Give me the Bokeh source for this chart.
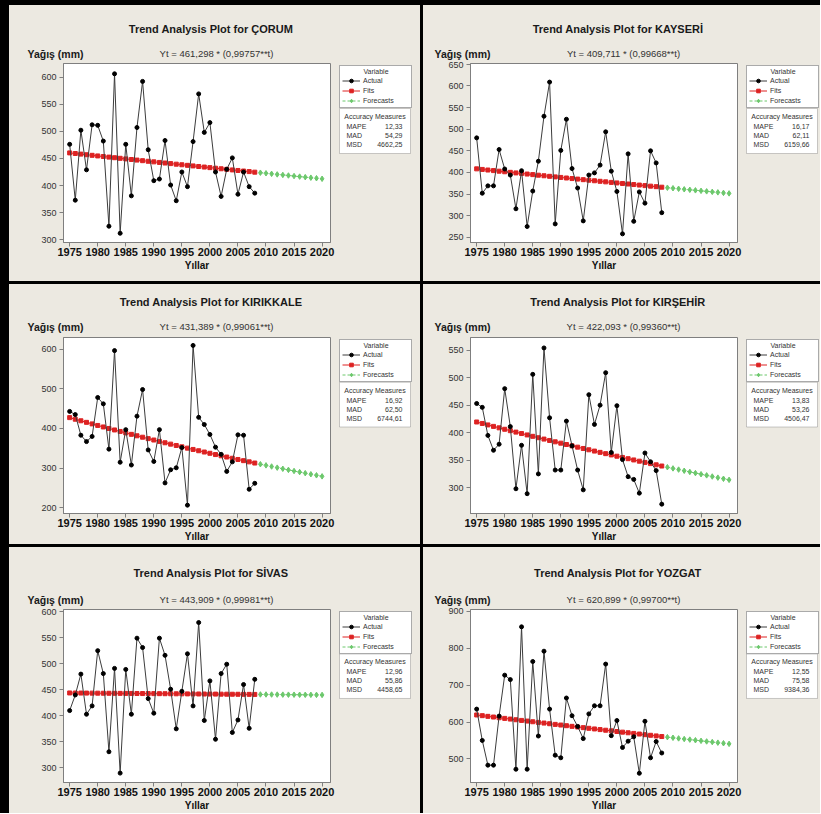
import numpy as np
from bokeh.plotting import figure
from bokeh.models import Label, Legend, LegendItem, FixedTicker, Range1d, BoxAnnotation, Spacer
from bokeh.layouts import row, column
from bokeh.embed import file_html
from bokeh.resources import INLINE

# ---------------- data ----------------
years_actual = list(range(1975, 2009))      # t = 1..34
years_forecast = list(range(2009, 2021))    # t = 35..46
t_actual = list(range(1, 35))
t_forecast = list(range(35, 47))
x_ticks = [1975, 1980, 1985, 1990, 1995, 2000, 2005, 2010, 2015, 2020]

stations = ["ÇORUM", "KAYSERİ", "KIRIKKALE", "KIRŞEHİR", "SİVAS", "YOZGAT"]

corum = [476, 373, 502, 429, 512, 511, 482, 325, 606, 312, 476, 381, 507, 592, 466, 409, 412,
         483, 401, 372, 425, 398, 481, 569, 498, 516, 425, 380, 430, 451, 384, 425, 398, 386]
kayseri = [480, 352, 369, 369, 453, 408, 394, 316, 404, 275, 357, 426, 530, 609, 281, 451, 523,
           409, 364, 288, 394, 399, 417, 494, 403, 356, 258, 443, 287, 355, 329, 450, 422, 307]
kirikkale = [443, 435, 383, 367, 380, 478, 462, 348, 596, 315, 397, 308, 431, 498, 346, 317, 397,
             263, 296, 301, 352, 207, 609, 428, 410, 385, 353, 335, 292, 316, 384, 383, 247, 262]
kirsehir = [453, 446, 395, 368, 379, 480, 411, 298, 377, 289, 506, 325, 554, 427, 332, 332, 421,
            376, 332, 296, 469, 415, 450, 509, 364, 449, 351, 320, 315, 290, 363, 347, 331, 270]
sivas = [410, 440, 480, 403, 419, 525, 481, 331, 491, 290, 489, 403, 549, 531, 433, 405, 549,
         516, 451, 375, 447, 519, 419, 579, 391, 467, 355, 481, 499, 368, 392, 460, 376, 470]
yozgat = [635, 550, 483, 483, 616, 727, 715, 472, 858, 472, 764, 562, 792, 635, 510, 503, 665,
          617, 588, 555, 622, 644, 644, 757, 563, 604, 531, 548, 560, 461, 602, 503, 547, 516]
actual_series = [corum, kayseri, kirikkale, kirsehir, sivas, yozgat]

# trend model Yt = a * b**t as printed on each panel
coef_a = [461.298, 409.711, 431.389, 422.093, 443.909, 620.899]
coef_b = [0.99757, 0.99668, 0.99061, 0.99360, 0.99981, 0.99700]
equations = ["Yt = 461,298 * (0,99757**t)", "Yt = 409,711 * (0,99668**t)",
             "Yt = 431,389 * (0,99061**t)", "Yt = 422,093 * (0,99360**t)",
             "Yt = 443,909 * (0,99981**t)", "Yt = 620,899 * (0,99700**t)"]

mape = ["12,33", "16,17", "16,92", "13,83", "12,96", "12,55"]
mad = ["54,29", "62,11", "62,50", "53,26", "55,86", "75,58"]
msd = ["4662,25", "6159,66", "6744,61", "4506,47", "4458,65", "9384,36"]
measure_names = ["MAPE", "MAD", "MSD"]

y_ticks = [list(range(300, 601, 50)), list(range(250, 651, 50)), list(range(200, 601, 100)),
           list(range(300, 551, 50)), list(range(300, 601, 50)), list(range(500, 901, 100))]
y_limits = [(295, 625), (238, 652), (186, 629), (253, 573), (272, 604), (436, 905)]
x_limits = (1973.9, 2021.5)

# ---------------- style ----------------
FONT = "Liberation Sans"
BG = "#ECE9E1"
RED = "#DD2222"
GREEN = "#6CC86C"
GRAY = "#7F7F7F"
TXT = "#333333"
NB = "\u00a0"

FW = 267
ROWS = [dict(H=276, top=58, fh=179, dt=35, dy=10),
        dict(H=260, top=53, fh=177, dt=36, dy=11),
        dict(H=266, top=62, fh=175, dt=37, dy=10)]
COLS = [dict(W=411, left=54, boxw=71), dict(W=397, left=47, boxw=71)]
RB = 7       # main figure border right of the frame
L1H = 42     # height of the "Variable" legend box


def blank_fig(w, h, **kw):
    f = figure(width=w, height=h, output_backend="svg", toolbar_location=None,
               min_border=0, x_axis_location=None, y_axis_location=None, **kw)
    f.background_fill_color = BG
    f.border_fill_color = BG
    f.outline_line_color = None
    f.grid.visible = False
    return f


def style_series(f, xa, act, xf, fits, xc, fcst):
    """Draw actual / fits / forecasts with the library's glyphs; returns renderers."""
    rf_l = f.line(xa, fits, line_color=RED, line_width=1)
    rf_s = f.scatter(xa, fits, marker="square", size=4, color=RED)
    rc_l = f.line(xc, fcst, line_color=GREEN, line_width=1, line_dash="3 2")
    rc_s = f.scatter(xc, fcst, marker="diamond", size=5.5, color=GREEN)
    ra_l = f.line(xa, act, line_color="#3C3C3C", line_width=1)
    ra_s = f.scatter(xa, act, marker="circle", size=4, color="black")
    return (ra_l, ra_s), (rf_l, rf_s), (rc_l, rc_s)


def make_panel(i):
    r = ROWS[i // 2]
    c = COLS[i % 2]
    W, H, top, fh, left, boxw = c["W"], r["H"], r["top"], r["fh"], c["left"], c["boxw"]
    bottom = H - top - fh
    hh = top - 2
    hm = H - hh

    # ---- header with title, y label and equation ----
    head = blank_fig(W, hh, x_range=Range1d(0, W), y_range=Range1d(0, hh))
    head.add_layout(Label(x=W / 2 - 4, y=r["dt"] - 2, text="Trend Analysis Plot for " + stations[i],
                          text_font=FONT, text_font_style="bold", text_font_size="11px",
                          text_color="#1a1a1a", text_align="center", text_baseline="middle"))
    head.add_layout(Label(x=left - 36, y=r["dy"] - 2, text="Yağış (mm)", text_font=FONT,
                          text_font_style="bold", text_font_size="10.5px", text_color="#1a1a1a",
                          text_align="left", text_baseline="middle"))
    head.add_layout(Label(x=left + 153, y=r["dy"] - 2, text=equations[i], text_font=FONT,
                          text_font_size="9.5px", text_color=TXT,
                          text_align="center", text_baseline="middle"))

    # ---- main plot ----
    p = figure(width=left + FW + RB, height=hm, output_backend="svg", toolbar_location=None,
               x_range=Range1d(*x_limits), y_range=Range1d(*y_limits[i]),
               min_border_left=left, min_border_right=RB, min_border_top=2,
               min_border_bottom=bottom)
    p.background_fill_color = "white"
    p.border_fill_color = BG
    p.outline_line_color = GRAY
    p.outline_line_width = 1
    p.grid.visible = False

    xa = p.xaxis[0]
    xa.ticker = FixedTicker(ticks=x_ticks)
    xa.major_label_text_font = FONT
    xa.major_label_text_font_style = "bold"
    xa.major_label_text_font_size = "11px"
    xa.major_label_text_color = "#111111"
    xa.major_label_standoff = 1
    xa.axis_label = "Yıllar"
    xa.axis_label_text_font = FONT
    xa.axis_label_text_font_style = "bold"
    xa.axis_label_text_font_size = "10px"
    xa.axis_label_text_color = "#111111"
    xa.axis_label_standoff = 1
    ya = p.yaxis[0]
    ya.ticker = FixedTicker(ticks=y_ticks[i])
    ya.major_label_text_font = FONT
    ya.major_label_text_font_size = "9px"
    ya.major_label_text_color = TXT
    ya.major_label_standoff = 3
    for ax in (xa, ya):
        ax.axis_line_color = GRAY
        ax.major_tick_line_color = GRAY
        ax.major_tick_out = 4
        ax.major_tick_in = 0
        ax.minor_tick_out = 0
        ax.minor_tick_in = 0

    a, b = coef_a[i], coef_b[i]
    fits = [a * b ** t for t in t_actual]
    fcst = [a * b ** t for t in t_forecast]
    act = actual_series[i]

    style_series(p, years_actual, act, years_actual, fits, years_forecast, fcst)

    # ---- legend column (frame = same vertical extent as the plot frame) ----
    wl = W - left - FW - RB
    lg = blank_fig(wl, hm, x_range=Range1d(0, wl), y_range=Range1d(0, fh))
    lg.min_border_top = 2
    lg.min_border_bottom = bottom
    # same series drawn again here only so the legend has glyphs to show
    # (they lie outside this small figure's ranges, so nothing is visible)
    ra, rf, rc = style_series(lg, years_actual, act, years_actual, fits, years_forecast, fcst)

    leg = Legend(items=[LegendItem(label="Actual", renderers=list(ra)),
                        LegendItem(label="Fits", renderers=list(rf)),
                        LegendItem(label="Forecasts", renderers=list(rc))],
                 location="top_left", margin=2, title=NB * 11 + "Variable",
                 label_text_font=FONT, label_text_font_size="7px", label_text_color=TXT,
                 title_text_font=FONT, title_text_font_size="7px", title_text_color=TXT,
                 title_text_font_style="normal", label_height=9, glyph_height=9,
                 glyph_width=18, label_standoff=3, label_width=boxw - 2 * 2 - 18 - 3,
                 spacing=1, padding=2, title_standoff=1,
                 border_line_color="#555555", border_line_width=1,
                 background_fill_color="white", background_fill_alpha=1.0)
    lg.add_layout(leg)

    top2 = fh - 2 - L1H - 1
    lg.add_layout(BoxAnnotation(left=2, right=2 + boxw, top=top2, bottom=top2 - 45,
                                fill_color="white", fill_alpha=1.0,
                                line_color="#555555", line_width=1))
    lg.add_layout(Label(x=2 + boxw / 2, y=top2 - 8, text="Accuracy Measures", text_font=FONT,
                        text_font_size="7px", text_color=TXT, text_align="center",
                        text_baseline="middle"))
    for k, val in enumerate((mape[i], mad[i], msd[i])):
        yk = top2 - 18 - 9 * k
        lg.add_layout(Label(x=2 + 7, y=yk, text=measure_names[k], text_font=FONT,
                            text_font_size="7px", text_color=TXT, text_align="left",
                            text_baseline="middle"))
        lg.add_layout(Label(x=2 + boxw - 8, y=yk, text=val, text_font=FONT,
                            text_font_size="7px", text_color=TXT, text_align="right",
                            text_baseline="middle"))

    bgstyle = {"background-color": BG}
    return column(head, row(p, lg, spacing=0, styles=bgstyle), spacing=0, styles=bgstyle)


panels = [make_panel(i) for i in range(6)]
grid = column(Spacer(width=10, height=2),
              row(Spacer(width=6, height=10), panels[0], panels[1], spacing=3),
              row(Spacer(width=6, height=10), panels[2], panels[3], spacing=3),
              row(Spacer(width=6, height=10), panels[4], panels[5], spacing=3),
              spacing=3, styles={"background-color": "black"})

open("out.html", "w").write(file_html(grid, INLINE))
